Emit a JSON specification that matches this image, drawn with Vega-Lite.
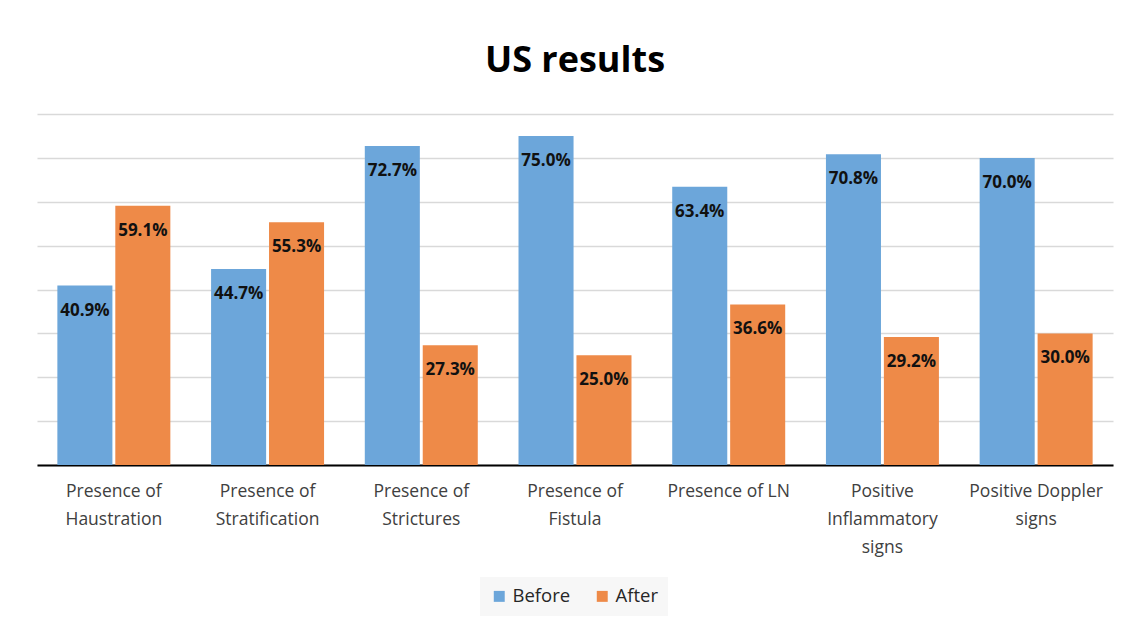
{
  "$schema": "https://vega.github.io/schema/vega-lite/v6.json",
  "autosize": {"type": "none"},
  "width": 1076,
  "height": 351,
  "padding": {"left": 37, "top": 114, "right": 18, "bottom": 165},
  "background": "white",
  "title": {"text": "US results", "fontSize": 36, "font": "Open Sans", "fontWeight": "bold", "color": "#000000", "anchor": "middle", "offset": 34},
  "data": {"values": [
    {"category": "Presence of Haustration", "period": "Before", "value": 0.409},
    {"category": "Presence of Haustration", "period": "After", "value": 0.591},
    {"category": "Presence of Stratification", "period": "Before", "value": 0.447},
    {"category": "Presence of Stratification", "period": "After", "value": 0.553},
    {"category": "Presence of Strictures", "period": "Before", "value": 0.727},
    {"category": "Presence of Strictures", "period": "After", "value": 0.273},
    {"category": "Presence of Fistula", "period": "Before", "value": 0.75},
    {"category": "Presence of Fistula", "period": "After", "value": 0.25},
    {"category": "Presence of LN", "period": "Before", "value": 0.634},
    {"category": "Presence of LN", "period": "After", "value": 0.366},
    {"category": "Positive Inflammatory signs", "period": "Before", "value": 0.708},
    {"category": "Positive Inflammatory signs", "period": "After", "value": 0.292},
    {"category": "Positive Doppler signs", "period": "Before", "value": 0.70},
    {"category": "Positive Doppler signs", "period": "After", "value": 0.30}
  ]},
  "encoding": {
    "x": {"field": "category", "type": "nominal", "sort": null,
      "scale": {"paddingInner": 0.265, "paddingOuter": 0.1325},
      "axis": {"title": null, "labelAngle": 0, "domainColor": "#000000", "domainWidth": 2, "ticks": false,
        "labelFont": "Open Sans", "labelFontSize": 17.5, "labelColor": "#404040", "labelPadding": 17, "labelLineHeight": 28, "labelBaseline": "top", "labelLimit": 220,
        "labelExpr": "{'Presence of Haustration': ['Presence of', 'Haustration'], 'Presence of Stratification': ['Presence of', 'Stratification'], 'Presence of Strictures': ['Presence of', 'Strictures'], 'Presence of Fistula': ['Presence of', 'Fistula'], 'Presence of LN': ['Presence of LN'], 'Positive Inflammatory signs': ['Positive', 'Inflammatory', 'signs'], 'Positive Doppler signs': ['Positive Doppler', 'signs']}[datum.label]"}},
    "xOffset": {"field": "period", "type": "nominal", "sort": ["Before", "After"], "scale": {"paddingInner": 0.05}},
    "y": {"field": "value", "type": "quantitative", "scale": {"domain": [0, 0.8]},
      "axis": {"title": null, "labels": false, "ticks": false, "domain": false, "tickCount": 8, "gridColor": "#d9d9d9", "gridWidth": 1.5}}
  },
  "layer": [
    {"mark": {"type": "bar"},
     "encoding": {"color": {"field": "period", "type": "nominal", "sort": ["Before", "After"],
        "scale": {"domain": ["Before", "After"], "range": ["#6CA6DA", "#EE8A48"]},
        "legend": {"title": null, "orient": "none", "legendX": 443, "legendY": 463, "direction": "horizontal", "symbolType": "square", "symbolSize": 120, "symbolStrokeWidth": 0,
          "labelFont": "Open Sans", "labelFontSize": 18.5, "labelColor": "#262626", "fillColor": "#f7f7f7", "padding": 10, "columnPadding": 22}}}},
    {"mark": {"type": "text", "baseline": "middle", "dy": 25, "font": "Open Sans", "fontSize": 17, "fontWeight": "bold", "color": "#111111"},
     "encoding": {"text": {"field": "value", "type": "quantitative", "format": ".1%"}}}
  ],
  "config": {"view": {"stroke": null}}
}
